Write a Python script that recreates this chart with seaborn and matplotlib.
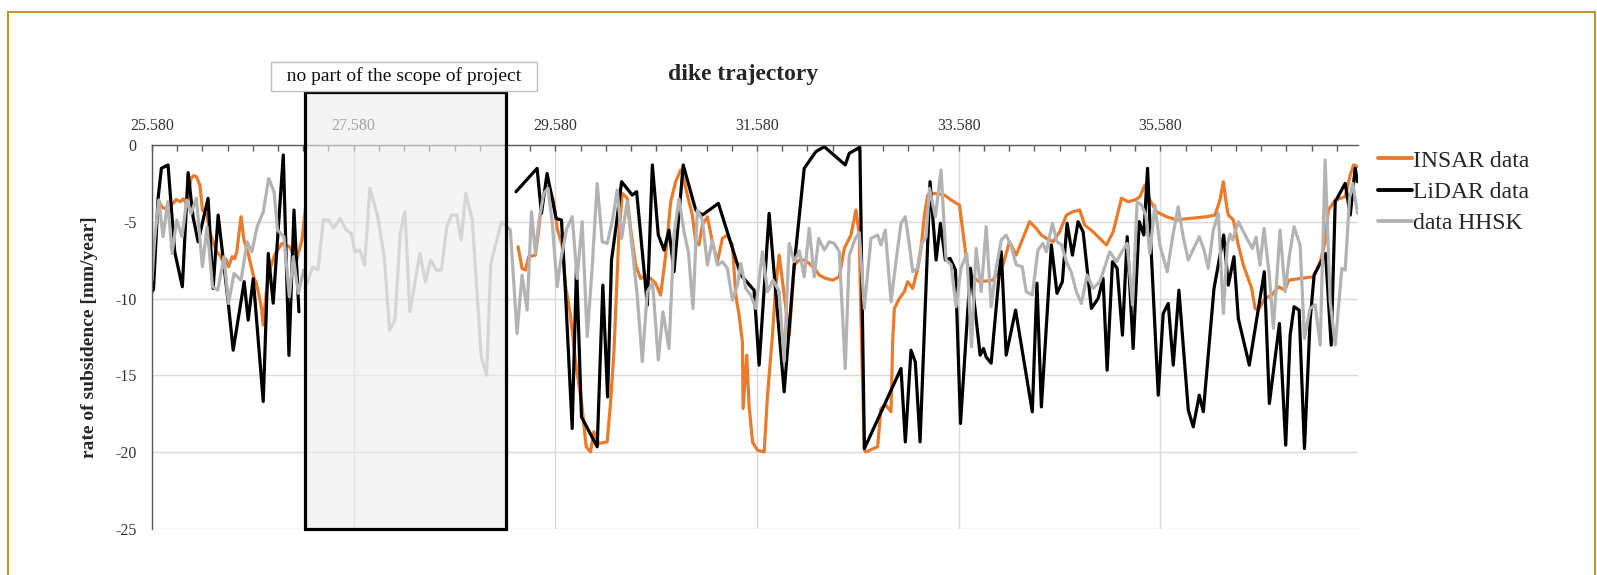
import numpy as np
import pandas as pd
import matplotlib
matplotlib.use("Agg")
import matplotlib.pyplot as plt
import matplotlib.patches as mpatches
from matplotlib.lines import Line2D
from matplotlib.ticker import FuncFormatter
import seaborn as sns

# dike trajectory position (km) and subsidence rate (mm/year)
insar_km = [25.645, 25.665, 25.690, 25.718, 25.750, 25.789, 25.820, 25.860, 25.890, 25.914,
            25.945, 25.967, 25.990, 26.020, 26.055, 26.080, 26.126, 26.150, 26.180, 26.222,
            26.255, 26.286, 26.310, 26.339, 26.375, 26.400, 26.421, 26.440, 26.463, 26.492,
            26.534, 26.560, 26.588, 26.615, 26.641, 26.665, 26.683, 26.712, 26.747, 26.801,
            26.871, 26.942, 27.013, 27.067, 27.102,
            29.210, 29.250, 29.283, 29.316, 29.382, 29.409, 29.442, 29.465, 29.515, 29.565,
            29.598, 29.647, 29.680, 29.730, 29.780, 29.839, 29.886, 29.929, 29.962, 30.012,
            30.094, 30.128, 30.161, 30.210, 30.243, 30.293, 30.326, 30.376, 30.426, 30.475,
            30.525, 30.575, 30.624, 30.674, 30.724, 30.773, 30.823, 30.839, 30.889, 30.938,
            30.972, 31.005, 31.038, 31.088, 31.137, 31.187, 31.237, 31.286, 31.336, 31.369,
            31.402, 31.435, 31.442, 31.478, 31.501, 31.535, 31.584, 31.651, 31.684, 31.733,
            31.766, 31.800, 31.850, 31.900, 31.949, 31.999, 32.048, 32.098, 32.147, 32.197,
            32.263, 32.330, 32.396, 32.445, 32.512, 32.561, 32.594, 32.611, 32.644, 32.660,
            32.776, 32.809, 32.859, 32.909, 32.925, 32.942, 32.992, 33.041, 33.074, 33.124,
            33.174, 33.207, 33.240, 33.273, 33.339, 33.439, 33.505, 33.588, 33.647, 33.687,
            33.786, 33.919, 34.018, 34.084, 34.150, 34.217, 34.283, 34.349, 34.399, 34.449,
            34.515, 34.582, 34.648, 34.714, 34.780, 34.830, 34.913, 34.979, 35.045, 35.112,
            35.161, 35.194, 35.261, 35.327, 35.377, 35.426, 35.476, 35.542, 35.641, 35.741,
            35.873, 36.039, 36.122, 36.171, 36.205, 36.238, 36.254, 36.304, 36.353, 36.403,
            36.486, 36.519, 36.552, 36.618, 36.684, 36.751, 36.817, 36.850, 36.966, 37.098,
            37.165, 37.214, 37.247, 37.314, 37.413, 37.463, 37.496, 37.535]
insar_rate = [-3.60, -3.90, -4.10, -4.13, -3.90, -3.80, -3.55, -3.69, -3.50, -3.76,
              -3.20, -2.17, -2.00, -2.06, -2.61, -4.23, -4.56, -5.60, -6.19, -6.95,
              -7.20, -7.60, -7.40, -7.93, -7.27, -7.40, -6.95, -5.90, -4.67, -6.19,
              -7.06, -7.80, -8.58, -9.00, -9.77, -10.60, -11.73, -9.66, -8.14, -7.06,
              -6.41, -6.62, -7.49, -6.19, -4.13,
              -6.62, -8.03, -8.14, -7.27, -7.17, -5.86, -3.91, -3.15, -2.71, -3.69,
              -5.43, -6.51, -9.12, -11.07, -14.11, -16.72, -19.65, -19.98, -18.67, -19.43,
              -19.33, -16.72, -13.46, -5.86, -3.15, -3.47, -5.43, -7.82, -8.69, -8.47,
              -8.69, -9.01, -9.77, -7.17, -3.69, -2.39, -1.63, -1.85, -3.26, -4.56,
              -6.30, -6.51, -5.21, -4.67, -6.30, -7.60, -6.08, -5.86, -6.51, -9.77,
              -11.07, -12.81, -17.16, -13.68, -16.94, -19.33, -19.87, -19.98, -16.29, -12.38,
              -9.12, -7.17, -9.80, -12.40, -7.82, -7.49, -7.49, -7.71, -8.03, -8.47,
              -8.69, -8.80, -8.58, -6.73, -5.86, -4.23, -5.86, -11.29, -19.87, -19.98,
              -19.65, -17.16, -16.94, -17.37, -12.81, -10.64, -9.99, -9.55, -8.90, -9.34,
              -8.03, -6.73, -4.56, -3.26, -3.15, -3.26, -3.58, -3.91, -6.95, -8.47,
              -8.90, -8.80, -7.82, -6.30, -7.17, -6.08, -4.99, -5.43, -5.86, -6.08,
              -6.30, -5.65, -4.56, -4.34, -4.23, -5.21, -5.65, -6.08, -6.51, -5.65,
              -4.34, -3.47, -3.69, -3.58, -3.37, -2.61, -3.58, -4.34, -4.67, -4.88,
              -4.78, -4.67, -4.56, -3.58, -2.39, -4.02, -4.56, -4.88, -6.51, -7.82,
              -9.34, -10.64, -10.75, -9.99, -9.77, -9.23, -9.45, -8.80, -8.69, -8.58,
              -7.60, -6.30, -4.23, -3.58, -3.37, -1.95, -1.30, -1.41]

lidar_km = [25.580, 25.595, 25.640, 25.673, 25.739, 25.805, 25.881, 25.938, 25.987, 26.037,
            26.136, 26.186, 26.236, 26.335, 26.385, 26.494, 26.534, 26.584, 26.683, 26.733,
            26.782, 26.882, 26.938, 26.988, 27.037,
            29.190, 29.399, 29.442, 29.498, 29.588, 29.641, 29.680, 29.747, 29.790, 29.839,
            29.995, 30.051, 30.098, 30.137, 30.184, 30.237, 30.343, 30.386, 30.492, 30.542,
            30.601, 30.658, 30.707, 30.757, 30.848, 30.972, 31.038, 31.197, 31.419, 31.551,
            31.601, 31.700, 31.849, 31.949, 32.048, 32.164, 32.247, 32.455, 32.495, 32.600,
            32.645, 33.008, 33.051, 33.107, 33.150, 33.197, 33.296, 33.356, 33.399, 33.448,
            33.495, 33.548, 33.598, 33.697, 33.793, 33.826, 33.852, 33.902, 34.002, 34.051,
            34.144, 34.310, 34.356, 34.400, 34.499, 34.555, 34.608, 34.655, 34.708, 34.764,
            34.814, 34.896, 34.963, 35.012, 35.052, 35.105, 35.151, 35.204, 35.251, 35.310,
            35.370, 35.416, 35.453, 35.486, 35.559, 35.608, 35.658, 35.708, 35.764, 35.857,
            35.906, 35.966, 36.006, 36.112, 36.208, 36.254, 36.310, 36.353, 36.462, 36.611,
            36.661, 36.761, 36.823, 36.867, 36.906, 36.956, 37.009, 37.065, 37.105, 37.165,
            37.218, 37.274, 37.314, 37.413, 37.463, 37.512, 37.535]
lidar_rate = [-9.55, -9.40, -3.50, -1.52, -1.30, -6.95, -9.23, -1.80, -4.67, -6.30,
              -3.47, -9.34, -4.56, -10.20, -13.36, -8.90, -11.40, -8.70, -16.70, -7.06,
              -10.30, -0.65, -13.70, -4.23, -10.86,
              -3.04, -1.52, -4.45, -1.85, -4.78, -4.89, -9.55, -18.46, -7.82, -17.70,
              -19.65, -9.12, -16.40, -7.49, -5.21, -2.39, -3.26, -3.04, -10.42, -1.30,
              -5.86, -6.84, -5.54, -8.25, -1.30, -4.23, -4.56, -3.80, -8.47, -9.45,
              -14.33, -4.45, -16.07, -7.82, -1.52, -0.43, -0.11, -1.30, -0.54, -0.15,
              -19.76, -14.55, -19.33, -13.36, -14.12, -19.33, -2.39, -7.49, -5.10, -7.49,
              -7.38, -8.14, -18.13, -8.03, -13.68, -13.25, -13.80, -14.20, -6.95, -13.68,
              -10.75, -17.37, -9.00, -17.05, -6.51, -9.66, -8.90, -5.10, -7.17, -4.99,
              -5.65, -10.64, -9.99, -8.69, -14.66, -7.60, -8.03, -12.38, -5.97, -13.25,
              -4.99, -5.86, -1.52, -6.51, -16.29, -10.97, -10.32, -14.33, -9.45, -17.26,
              -18.35, -16.29, -17.37, -9.34, -5.86, -9.12, -7.27, -11.29, -14.33, -8.25,
              -16.83, -11.62, -19.54, -12.38, -10.53, -10.75, -19.76, -11.40, -8.47, -7.71,
              -7.06, -13.03, -3.69, -2.50, -4.56, -1.52, -2.39]

hhsk_km = [25.580, 25.605, 25.647, 25.690, 25.736, 25.779, 25.825, 25.878, 25.924, 25.967,
           26.020, 26.080, 26.126, 26.180, 26.233, 26.293, 26.339, 26.393, 26.463, 26.524,
           26.570, 26.623, 26.684, 26.737, 26.790, 26.825, 26.889, 26.942, 26.981, 27.031,
           27.084, 27.120, 27.173, 27.226, 27.279, 27.333, 27.379, 27.446, 27.507, 27.556,
           27.592, 27.641, 27.688, 27.741, 27.819, 27.883, 27.936, 27.989, 28.042, 28.088,
           28.138, 28.237, 28.291, 28.344, 28.397, 28.450, 28.504, 28.550, 28.603, 28.646,
           28.692, 28.756, 28.845, 28.898, 28.940, 29.000, 29.047, 29.134, 29.200, 29.250,
           29.300, 29.343, 29.382, 29.416, 29.465, 29.508, 29.548, 29.598, 29.631, 29.690,
           29.747, 29.796, 29.846, 29.896, 29.945, 29.995, 30.045, 30.094, 30.144, 30.194,
           30.237, 30.293, 30.343, 30.392, 30.442, 30.492, 30.545, 30.601, 30.647, 30.707,
           30.757, 30.806, 30.856, 30.900, 30.945, 30.988, 31.038, 31.088, 31.137, 31.187,
           31.237, 31.286, 31.336, 31.386, 31.419, 31.468, 31.518, 31.568, 31.634, 31.684,
           31.740, 31.800, 31.849, 31.899, 31.949, 32.000, 32.048, 32.098, 32.147, 32.191,
           32.247, 32.296, 32.346, 32.396, 32.455, 32.495, 32.555, 32.594, 32.644, 32.710,
           32.776, 32.809, 32.852, 32.909, 32.958, 33.008, 33.051, 33.091, 33.124, 33.174,
           33.207, 33.256, 33.290, 33.349, 33.405, 33.455, 33.505, 33.554, 33.604, 33.660,
           33.707, 33.753, 33.803, 33.853, 33.902, 33.952, 34.002, 34.051, 34.101, 34.150,
           34.210, 34.250, 34.310, 34.366, 34.416, 34.449, 34.509, 34.555, 34.600, 34.648,
           34.698, 34.747, 34.797, 34.853, 34.913, 34.979, 35.029, 35.078, 35.145, 35.194,
           35.251, 35.304, 35.350, 35.393, 35.436, 35.476, 35.526, 35.575, 35.648, 35.701,
           35.757, 35.807, 35.857, 35.906, 35.966, 36.012, 36.055, 36.105, 36.155, 36.205,
           36.244, 36.270, 36.297, 36.353, 36.429, 36.492, 36.529, 36.568, 36.608, 36.661,
           36.701, 36.767, 36.817, 36.860, 36.906, 36.966, 37.009, 37.065, 37.115, 37.165,
           37.214, 37.264, 37.314, 37.380, 37.413, 37.456, 37.489, 37.535]
hhsk_rate = [-8.80, -6.19, -3.58, -5.97, -3.69, -7.06, -4.88, -5.97, -3.58, -4.45,
             -3.47, -7.93, -5.32, -9.23, -9.45, -7.27, -10.32, -8.36, -8.80, -6.30,
             -6.95, -5.32, -4.34, -2.17, -3.04, -5.54, -5.97, -9.88, -7.27, -9.66,
             -8.14, -9.01, -7.93, -8.14, -4.88, -4.88, -5.43, -4.78, -5.54, -5.75,
             -6.95, -6.84, -7.82, -2.82, -4.67, -7.27, -12.05, -11.40, -5.75, -4.34,
             -10.86, -7.06, -8.90, -7.49, -8.14, -8.14, -5.32, -4.56, -4.56, -6.19,
             -3.15, -4.88, -13.79, -14.98, -7.71, -6.19, -4.99, -5.54, -12.27, -8.47,
             -10.75, -4.34, -7.06, -4.99, -3.15, -2.82, -4.99, -9.23, -7.60, -5.50,
             -4.67, -8.69, -4.99, -12.49, -8.00, -2.50, -6.30, -6.41, -4.99, -2.93,
             -6.08, -3.69, -6.80, -9.80, -14.11, -9.55, -9.00, -14.00, -10.86, -13.25,
             -5.86, -3.50, -5.65, -7.00, -10.64, -4.23, -4.88, -7.82, -6.19, -7.82,
             -7.60, -8.03, -10.10, -9.12, -7.71, -9.34, -9.77, -10.64, -6.95, -9.55,
             -8.80, -9.55, -14.11, -6.41, -7.60, -6.90, -8.58, -5.43, -8.58, -6.08,
             -6.84, -6.30, -6.41, -6.95, -14.55, -7.17, -6.08, -5.70, -10.64, -6.08,
             -5.86, -6.51, -5.54, -10.21, -7.60, -5.10, -4.67, -6.51, -8.25, -8.00,
             -6.51, -6.00, -2.82, -4.67, -1.63, -7.49, -7.80, -10.53, -8.00, -7.06,
             -13.14, -6.73, -9.55, -5.32, -10.53, -8.00, -6.19, -5.86, -6.60, -7.80,
             -7.93, -9.55, -9.77, -6.84, -6.41, -6.95, -5.10, -6.30, -6.50, -7.60,
             -8.30, -9.55, -10.32, -8.47, -9.34, -8.90, -7.93, -6.95, -7.60, -7.00,
             -6.41, -10.42, -3.69, -3.91, -4.56, -7.06, -3.91, -6.51, -8.25, -6.00,
             -4.02, -6.00, -7.49, -6.80, -5.97, -6.80, -8.03, -5.54, -4.45, -10.97,
             -6.51, -5.80, -6.19, -4.99, -5.97, -6.73, -6.00, -7.82, -5.43, -8.50,
             -11.94, -5.54, -9.55, -7.20, -5.32, -6.51, -12.59, -10.64, -10.40, -13.03,
             -0.98, -10.21, -13.03, -8.03, -8.14, -3.47, -2.50, -4.45]

series_names = ["INSAR data", "LiDAR data", "data HHSK"]
series_colors = ["#e97b2c", "#000000", "#b3b3b3"]
x_ticks_m = [25580, 27580, 29580, 31580, 33580, 35580]
excluded_m = (27096, 29089)  # stretch outside the project scope


def to_frame(km, rate, name):
    df = pd.DataFrame({"km": km, "rate": rate})
    df["m"] = df["km"] * 1000
    df["part"] = (df["km"].diff() > 1).cumsum()  # break the line over the gap
    df["source"] = name
    return df


data = pd.concat([to_frame(insar_km, insar_rate, series_names[0]),
                  to_frame(lidar_km, lidar_rate, series_names[1]),
                  to_frame(hhsk_km, hhsk_rate, series_names[2])], ignore_index=True)

sns.set_theme(style="white")
plt.rcParams["font.family"] = ["Liberation Serif", "DejaVu Serif"]

W, H = 1597, 575
fig = plt.figure(figsize=(W / 100, H / 100), dpi=100)
ax = fig.add_axes([152 / W, 1 - 529 / H, (1358 - 152) / W, (529 - 145) / H])

sns.lineplot(data=data, x="m", y="rate", hue="source", units="part", estimator=None,
             sort=False, hue_order=series_names, palette=series_colors,
             linewidth=2.3, legend=False, ax=ax)

ax.set_xlim(25580, 37540)
ax.set_ylim(-25, 0)
ax.set_xticks(x_ticks_m)
ax.set_xticks(np.arange(25580, 37540, 250), minor=True)
ax.set_yticks(np.arange(-25, 1, 5))
ax.set_yticks(np.arange(-25, 1, 2.5), minor=True)
ax.xaxis.set_major_formatter(FuncFormatter(lambda v, p: f"{v / 1000:.3f}"))
ax.yaxis.set_major_formatter(FuncFormatter(lambda v, p: f"{v:.0f}"))
ax.xaxis.tick_top()
ax.tick_params(axis="x", which="both", direction="in", length=4, width=1,
               color="#595959", labelsize=11.5, labelcolor="#333333", pad=8)
ax.tick_params(axis="y", which="both", direction="out", length=5, width=1,
               color="#595959", labelsize=11.5, labelcolor="#333333", pad=6)
ax.set_xlabel("")
ax.set_ylabel("")
ax.grid(True, which="major", color="#d9d9d9", linewidth=1)
for side in ["bottom", "right"]:
    ax.spines[side].set_visible(False)
for side in ["top", "left"]:
    ax.spines[side].set_color("#595959")
    ax.spines[side].set_linewidth(1)

# grey box over the stretch that is not part of the project
box = mpatches.Rectangle((excluded_m[0], -25), excluded_m[1] - excluded_m[0], 28.45,
                         facecolor=(0.93, 0.93, 0.93, 0.6), edgecolor="black",
                         linewidth=2.3, clip_on=False, zorder=5)
ax.add_patch(box)
ax.text(28077, 4.46, "  no part of the scope of project  ", ha="center", va="center",
        fontsize=14, color="#111111", clip_on=False, zorder=6,
        bbox=dict(boxstyle="square,pad=0.3", facecolor="white", edgecolor="#c0c0c0", linewidth=1))

fig.text(743 / W, 1 - 74 / H, "dike trajectory", ha="center", va="center",
         fontsize=17, fontweight="bold")
fig.text(90 / W, 1 - 337 / H, "rate of subsidence [mm/year]", ha="center", va="center",
         rotation=90, fontsize=14, fontweight="bold")

handles = [Line2D([], [], color=c, linewidth=2.8) for c in series_colors]
fig.legend(handles, series_names, loc="upper left", bbox_to_anchor=(1378 / W, 1 - 150 / H),
           frameon=False, fontsize=17, handlelength=1.45, handletextpad=0.05,
           labelspacing=0.42, borderaxespad=0, borderpad=0)

# golden frame round the figure
fig.patches.append(mpatches.Rectangle((8 / W, -0.05), (1595 - 8) / W, 1.05 - 12 / H,
                                      transform=fig.transFigure, fill=False,
                                      edgecolor="#c8952c", linewidth=1.5))

fig.savefig("out.png", dpi=100)
